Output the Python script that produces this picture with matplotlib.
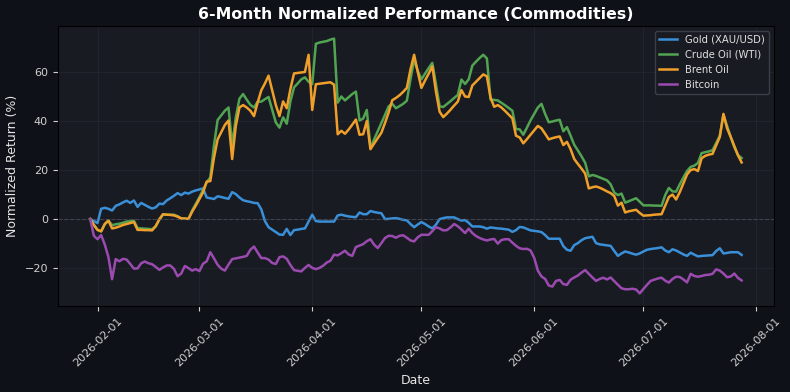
import matplotlib
matplotlib.use("Agg")
import matplotlib.pyplot as plt
import matplotlib.dates as mdates
import pandas as pd

# daily dates, 180 days ending 2026-07-28
dates = pd.date_range("2026-01-30", periods=180, freq="D")

gold = [
    0, -0.8, -1.6, 4.2, 4.6, 4.2, 3.5, 5.4, 6.0, 6.8,
    7.5, 6.6, 7.6, 5.0, 6.6, 5.8, 5.0, 4.3, 4.8, 6.3,
    6.1, 7.6, 8.5, 9.5, 10.6, 9.8, 10.8, 10.4, 11.2, 11.7,
    12.1, 12.5, 8.8, 8.5, 8.2, 9.3, 9.0, 8.6, 8.3, 11.0,
    10.2, 8.8, 7.7, 7.3, 7.0, 6.6, 6.5, 4.0, -0.8, -3.3,
    -4.3, -5.3, -6.3, -6.4, -4.0, -6.5, -4.5, -4.3, -4.0, -3.8,
    -1.0, 1.8, -0.8, -1.0, -1.0, -1.0, -1.0, -1.0, 1.5, 1.8,
    1.4, 1.1, 0.9, 0.8, 2.7, 2.0, 2.0, 3.3, 2.9, 2.6,
    2.4, 0.0, 0.1, 0.3, 0.4, 0.1, -0.3, -0.5, -2.0, -3.3,
    -2.2, -1.2, -2.0, -3.0, -3.8, -2.3, 0.0, 0.4, 0.7, 0.7,
    0.7, 0.0, -0.6, -0.4, -1.5, -3.0, -3.0, -3.0, -3.3, -3.9,
    -3.4, -3.6, -3.8, -3.9, -4.1, -4.3, -5.2, -4.5, -3.2, -3.4,
    -4.0, -4.6, -4.8, -5.0, -5.3, -6.5, -8.0, -8.0, -8.0, -8.0,
    -11.0, -12.5, -12.9, -10.6, -9.8, -8.6, -7.8, -7.5, -7.2, -9.8,
    -10.3, -10.5, -10.7, -10.9, -13.0, -15.0, -14.0, -13.2, -13.6, -14.1,
    -14.5, -14.0, -13.2, -12.5, -12.2, -12.0, -11.8, -11.5, -12.8, -13.5,
    -12.3, -12.8, -13.6, -14.4, -15.0, -13.7, -14.5, -15.2, -15.0, -14.9,
    -14.8, -14.7, -13.0, -11.9, -14.0, -13.8, -13.5, -13.5, -13.5, -14.6,
]

crude = [
    0, -2.4, -4.4, -5.0, -2.0, -0.6, -2.5, -2.1, -1.9, -1.5,
    -1.0, -0.9, -0.7, -3.7, -3.8, -3.9, -4.0, -4.1, -3.0, -0.2,
    1.8, 1.8, 1.8, 1.8, 1.2, 0.3, 0.2, 0.1, 3.5, 6.2,
    8.9, 12.0, 15.0, 17.0, 30.0, 40.4, 42.3, 44.2, 45.5, 30.0,
    41.5, 49.1, 51.0, 48.7, 46.6, 45.5, 47.9, 47.9, 48.9, 49.8,
    44.6, 39.4, 37.3, 41.5, 38.9, 48.0, 53.7, 55.3, 57.0, 57.8,
    56.0, 55.0, 71.5, 72.0, 72.3, 72.6, 73.2, 73.6, 47.5, 50.0,
    48.4, 49.7, 51.0, 52.0, 40.2, 41.0, 44.5, 29.0, 32.5, 35.8,
    39.0, 42.5, 46.0, 47.0, 45.2, 46.1, 47.0, 48.3, 57.0, 65.0,
    60.5, 57.0, 59.3, 61.6, 63.7, 55.0, 46.0, 45.7, 46.9, 48.1,
    49.4, 50.6, 56.9, 55.1, 57.0, 62.6, 64.2, 65.7, 67.0, 65.5,
    48.8, 48.6, 48.4, 47.4, 46.4, 45.3, 44.2, 36.7, 36.6, 34.4,
    37.3, 40.3, 42.9, 45.5, 47.0, 42.9, 39.5, 39.8, 40.2, 40.5,
    35.8, 37.5, 34.0, 30.3, 28.0, 25.6, 23.0, 17.4, 18.0, 17.6,
    17.0, 16.4, 15.8, 14.2, 10.8, 9.8, 10.4, 6.7, 7.3, 7.9,
    8.5, 7.1, 5.6, 5.6, 5.6, 5.5, 5.5, 5.4, 9.8, 12.7,
    11.3, 11.2, 14.2, 17.0, 19.6, 21.3, 21.8, 22.9, 26.9, 27.3,
    27.6, 28.1, 31.0, 34.0, 42.5, 38.0, 33.5, 29.3, 26.1, 24.9,
]

brent = [
    0, -2.4, -4.4, -5.0, -2.0, -0.6, -3.8, -3.5, -3.0, -2.4,
    -2.0, -1.6, -1.2, -4.4, -4.4, -4.5, -4.5, -4.6, -2.8, 0.0,
    2.0, 1.8, 1.7, 1.5, 1.0, 0.3, 0.2, 0.1, 3.0, 5.5,
    8.2, 10.9, 15.3, 15.5, 25.0, 32.5, 35.5, 38.4, 40.2, 24.5,
    38.0, 45.5, 46.5, 45.5, 44.2, 42.0, 47.5, 52.5, 55.3, 58.5,
    52.5, 46.5, 42.0, 48.0, 45.2, 53.0, 59.4, 59.6, 59.8, 60.0,
    67.0, 44.5, 55.0, 55.2, 55.4, 55.6, 55.8, 54.8, 34.6, 36.0,
    34.8, 36.5, 38.5, 40.6, 34.4, 34.6, 40.0, 28.5, 30.8, 33.0,
    35.2, 39.2, 43.5, 48.5, 49.4, 50.5, 51.9, 53.5, 61.0, 67.0,
    60.0, 53.5, 56.5, 59.3, 62.3, 52.0, 43.8, 41.6, 43.0, 44.6,
    46.3, 47.9, 52.6, 50.0, 49.8, 54.5, 56.0, 57.5, 59.0, 58.2,
    49.5, 45.8, 46.5, 45.5, 44.1, 42.6, 41.1, 34.0, 33.3, 30.9,
    32.6, 34.4, 36.2, 38.0, 37.0, 34.8, 32.5, 33.0, 33.4, 33.7,
    30.2, 31.5, 28.5, 24.5, 22.5, 20.6, 18.6, 12.5, 13.0, 13.3,
    12.8, 12.1, 11.3, 10.6, 9.4, 5.5, 6.7, 2.7, 3.2, 3.5,
    3.8, 2.5, 1.4, 1.5, 1.6, 1.8, 1.9, 2.0, 5.5, 9.0,
    10.0, 8.0, 11.0, 14.6, 18.2, 20.0, 20.4, 19.6, 24.8, 25.8,
    26.3, 26.6, 30.0, 33.5, 42.9, 37.0, 33.5, 29.8, 26.0, 23.1,
]

bitcoin = [
    0, -6.8, -8.2, -6.5, -10.4, -15.5, -24.5, -16.3, -17.2, -16.2,
    -16.5, -18.3, -20.2, -20.1, -18.0, -17.3, -18.0, -18.4, -19.5, -20.7,
    -19.7, -18.9, -18.9, -20.3, -23.3, -22.2, -19.1, -20.0, -21.0, -20.4,
    -21.2, -18.2, -17.2, -13.5, -16.0, -18.6, -20.2, -21.0, -18.5, -16.3,
    -16.0, -15.7, -15.4, -15.0, -12.5, -11.2, -13.6, -15.9, -15.9, -16.5,
    -17.9, -18.3, -15.5, -15.2, -16.2, -18.7, -20.8, -21.1, -21.3, -19.9,
    -18.7, -19.9, -20.4, -19.9, -19.0, -17.7, -17.0, -14.5, -14.8, -13.9,
    -12.9, -14.4, -15.0, -11.4, -10.8, -10.2, -9.0, -8.2, -10.4, -11.8,
    -9.8, -7.7, -6.8, -6.9, -7.6, -6.8, -6.6, -7.6, -8.7, -9.1,
    -7.4, -6.4, -6.4, -6.4, -4.9, -3.3, -3.8, -4.6, -4.5, -3.4,
    -2.0, -2.9, -4.2, -5.7, -3.9, -5.7, -6.9, -7.7, -8.3, -8.7,
    -8.3, -8.1, -10.0, -8.5, -8.2, -8.2, -9.6, -10.9, -11.9, -12.2,
    -12.1, -12.8, -15.8, -21.0, -23.4, -24.4, -27.1, -27.5, -25.2, -24.8,
    -26.5, -26.8, -24.7, -23.8, -23.0, -21.8, -20.8, -22.3, -23.8, -25.2,
    -24.4, -23.9, -24.6, -23.8, -25.3, -26.8, -28.2, -28.6, -28.6, -28.4,
    -28.7, -30.3, -28.5, -26.8, -25.2, -24.7, -24.2, -23.9, -25.1, -25.9,
    -24.4, -23.5, -23.6, -24.6, -25.8, -22.3, -23.2, -23.5, -23.2, -22.8,
    -22.7, -22.3, -20.5, -21.0, -22.2, -23.7, -23.4, -22.2, -24.0, -25.0,
]

labels = ["Gold (XAU/USD)", "Crude Oil (WTI)", "Brent Oil", "Bitcoin"]
colors = ["#3a8fd9", "#52a452", "#f0a02a", "#9b4bb0"]

fig = plt.figure(figsize=(7.9, 3.92), dpi=100, facecolor="#0e1117")
ax = fig.add_axes([0.073, 0.219, 0.907, 0.715])
ax.set_facecolor("#181b22")

for series, label, color in zip([gold, crude, brent, bitcoin], labels, colors):
    ax.plot(dates, series, color=color, linewidth=1.8, label=label)

ax.axhline(0, color="#555a63", linestyle="--", linewidth=0.8, alpha=0.6)
ax.grid(True, color="#2a2e36", linewidth=0.6, alpha=0.6)
ax.set_axisbelow(True)

ax.set_title("6-Month Normalized Performance (Commodities)", color="white",
             fontsize=11.3, fontweight="bold", pad=5)
ax.set_xlabel("Date", color="#e6e6e6", fontsize=9, labelpad=4)
ax.set_ylabel("Normalized Return (%)", color="#e6e6e6", fontsize=9)

ax.xaxis.set_major_locator(mdates.MonthLocator())
ax.xaxis.set_major_formatter(mdates.DateFormatter("%Y-%m-%d"))
plt.setp(ax.get_xticklabels(), rotation=45, ha="center", rotation_mode="default")
ax.tick_params(colors="#d0d0d0", labelsize=8)
for sp in ax.spines.values():
    sp.set_color("#000000")

leg = ax.legend(loc="upper right", fontsize=7.2, facecolor="#181b22",
                edgecolor="#3a3e46", framealpha=1, handlelength=1.8)
for t in leg.get_texts():
    t.set_color("#e0e0e0")

fig.savefig("out.png", dpi=100, facecolor=fig.get_facecolor())
